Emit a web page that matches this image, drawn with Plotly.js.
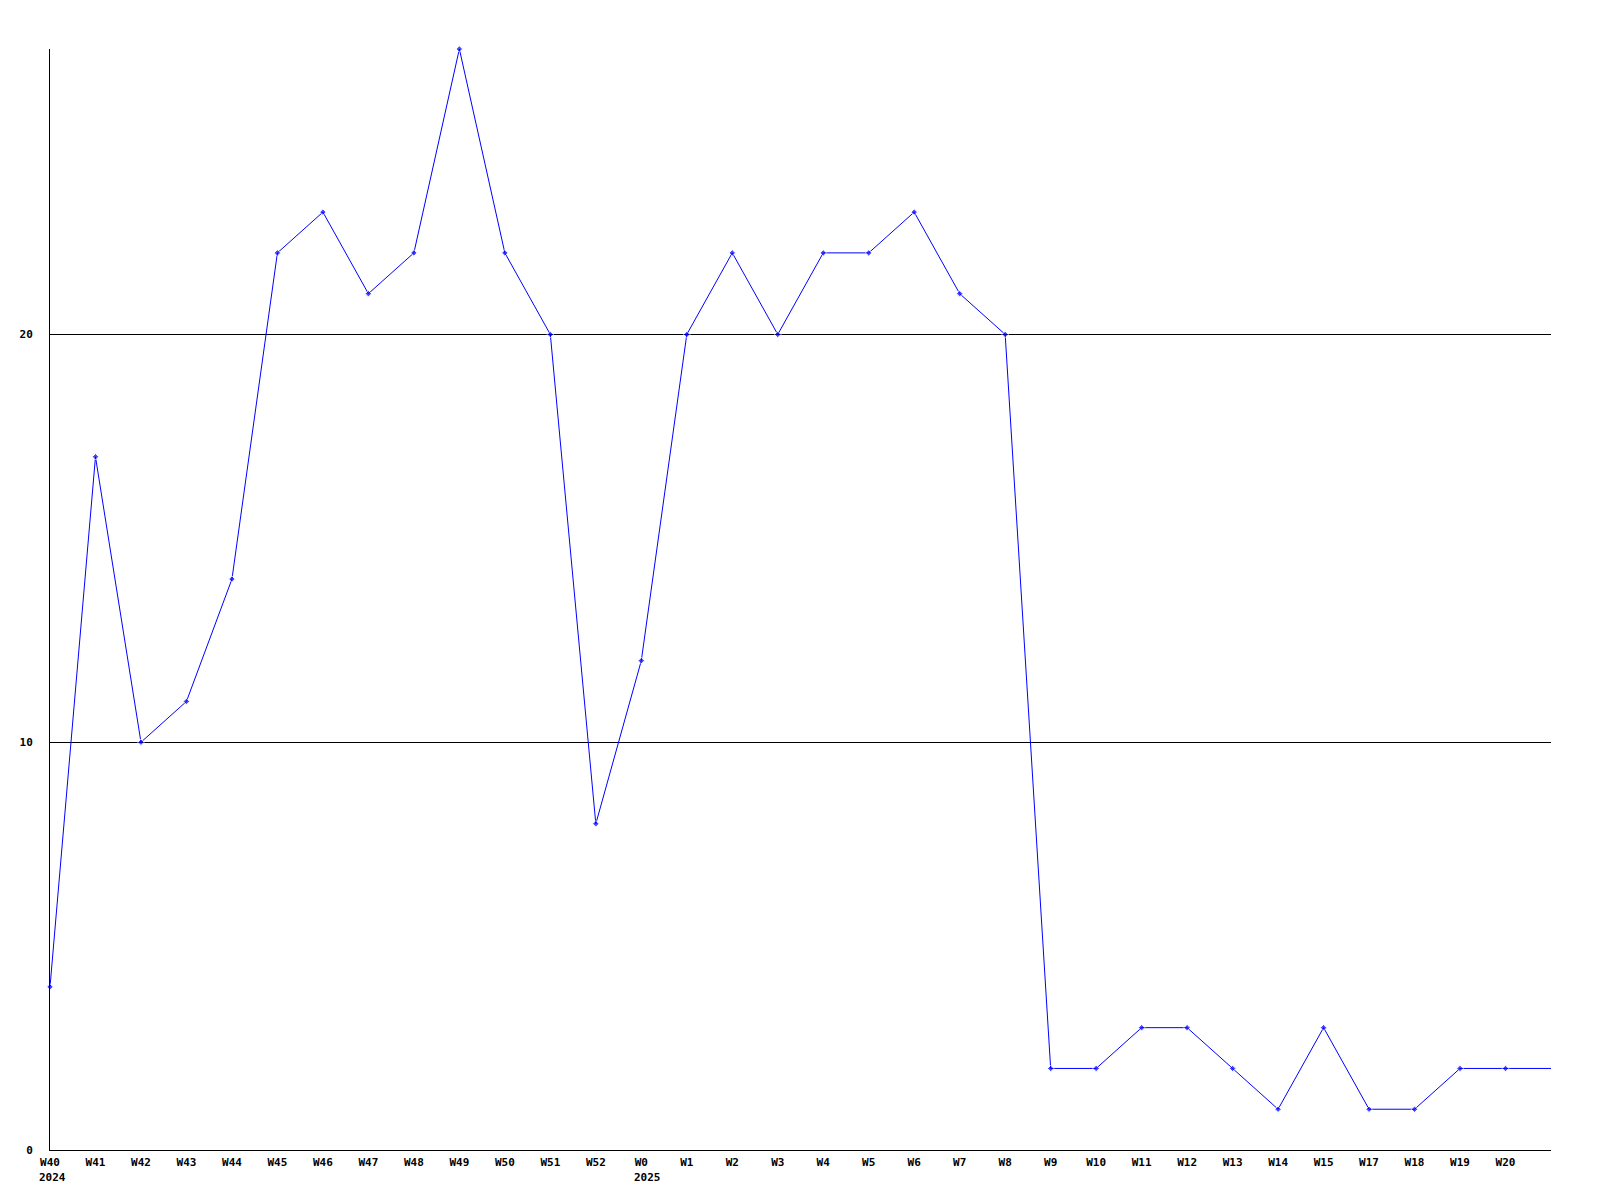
<!DOCTYPE html>
<html>
<head>
<meta charset="utf-8">
<script src="https://cdn.plot.ly/plotly-3.0.1.min.js"></script>
<style>html,body{margin:0;padding:0;background:#fff;}</style>
</head>
<body>
<div id="chart" style="width:1600px;height:1200px;"></div>
<script>
const weeks = ["W40","W41","W42","W43","W44","W45","W46","W47","W48","W49","W50","W51","W52",
  "W0","W1","W2","W3","W4","W5","W6","W7","W8","W9","W10","W11","W12","W13","W14","W15",
  "W17","W18","W19","W20","W21"];
const values = [4,17,10,11,14,22,23,21,22,27,22,20,8,
  12,20,22,20,22,22,23,21,20,2,2,3,3,2,1,3,
  1,1,2,2,2];
const labelledWeeks = weeks.slice(0, 33);
const yearWeeks = ["W40","W0"];
const yearLabels = ["2024","2025"];
const yTicks = [0,10,20];

const charW = 6.62;
const trace = {
  x: weeks, y: values, type: "scatter", mode: "lines+markers",
  line: {color: "#0000ff", width: 1},
  marker: {color: "#0000ff", symbol: "diamond",
    size: weeks.map(w => labelledWeeks.includes(w) ? 5 : 0)},
  cliponaxis: false, hoverinfo: "skip"
};
const tf = {family: "DejaVu Sans Mono", size: 11, color: "#000", weight: "bold"};
const annotations = yearWeeks.map((w, i) => ({
  x: w, xref: "x", y: 0, yref: "paper",
  text: yearLabels[i], showarrow: false,
  xanchor: "left", yanchor: "top", borderpad: 0,
  xshift: -(w.length * charW) / 2 - 2, yshift: -20,
  font: tf
}));
const layout = {
  width: 1600, height: 1200,
  margin: {l: 50, r: 49, t: 49, b: 50},
  paper_bgcolor: "#fff", plot_bgcolor: "#fff",
  showlegend: false,
  annotations: annotations,
  xaxis: {
    type: "category", categoryorder: "array", categoryarray: weeks,
    range: [0, 33], autorange: false,
    tickvals: labelledWeeks, ticktext: labelledWeeks, tickangle: 0,
    showgrid: false, zeroline: false,
    showline: true, linecolor: "#000", linewidth: 1,
    ticks: "", ticklabelstandoff: 2, tickfont: tf, fixedrange: true
  },
  yaxis: {
    range: [0, 27], autorange: false,
    tickvals: yTicks, ticktext: yTicks.map(String),
    showgrid: true, gridcolor: "#000", gridwidth: 1, zeroline: false,
    showline: true, linecolor: "#000", linewidth: 1,
    ticks: "", ticklabelstandoff: 14, tickfont: tf, fixedrange: true
  }
};
Plotly.newPlot("chart", [trace], layout, {staticPlot: true});
</script>
</body>
</html>
